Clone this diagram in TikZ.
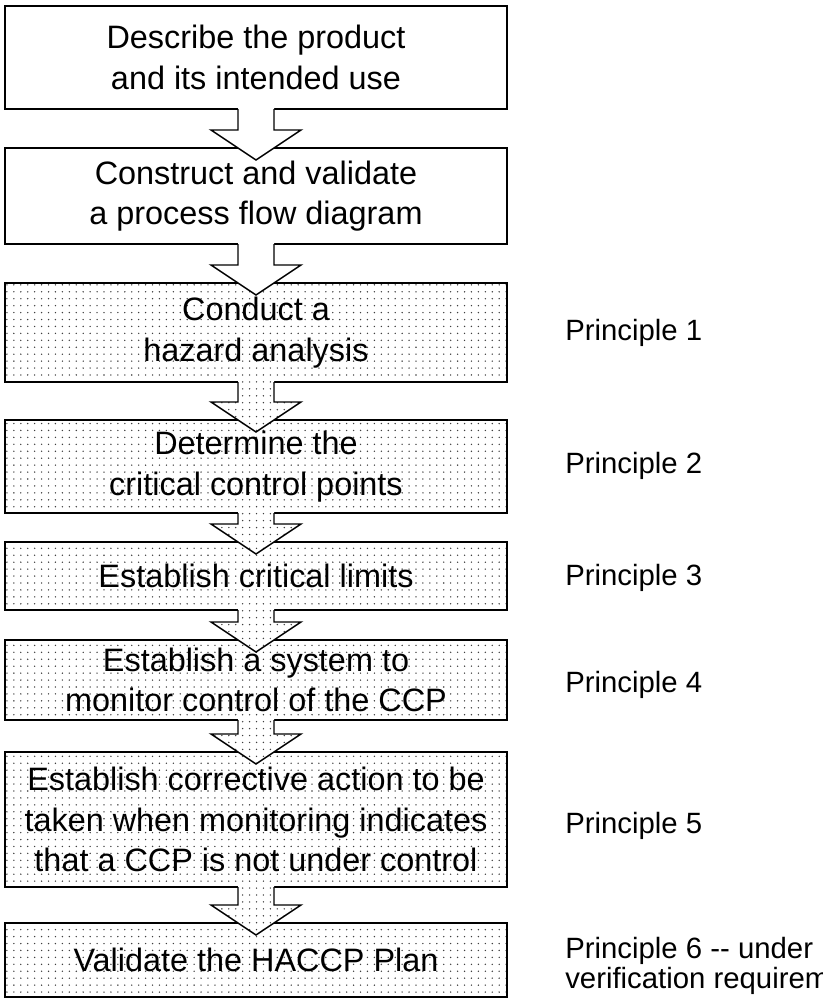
\documentclass[tikz,border=0pt]{standalone}
\usepackage{fontspec}
\setmainfont{Liberation Sans}
\usetikzlibrary{patterns,calc}

% fine grid of small dots used as the stipple shading
\pgfdeclarepatternformonly{stipple}{\pgfqpoint{-1pt}{-1pt}}{\pgfqpoint{1pt}{1pt}}{\pgfqpoint{5.2pt}{5.2pt}}{%
  \pgfpathcircle{\pgfqpoint{0pt}{0pt}}{0.58pt}\pgfusepath{fill}}

\tikzset{
  stepbox/.style={draw=black, line width=1.1pt, fill=white, inner sep=0pt, outer sep=0pt,
    minimum width=376.5pt, align=center, font=\fontsize{24.3pt}{30.5pt}\selectfont},
  shaded/.style={preaction={fill=white}, pattern=stipple, pattern color=black!75},
  principle/.style={anchor=base west, inner sep=0pt, align=left,
    font=\fontsize{22pt}{22.5pt}\selectfont},
  arrowline/.style={draw=black, line width=1.1pt, line join=miter},
  plainfill/.style={fill=white},
}

% block arrow from the bottom of box #1 into the top of box #2, filled with #3
\newcommand\flowarrow[3]{%
  \path[#3]
    ($(#1.south)+(-13.5pt,0.9pt)$) -- ($(#2.north)+(-13.5pt,13.5pt)$)
    -- ($(#2.north)+(-33.75pt,13.5pt)$) -- ($(#2.north)+(0pt,-9pt)$)
    -- ($(#2.north)+(33.75pt,13.5pt)$) -- ($(#2.north)+(13.5pt,13.5pt)$)
    -- ($(#1.south)+(13.5pt,0.9pt)$) -- cycle;
  \path[arrowline]
    ($(#1.south)+(-13.5pt,0pt)$) -- ($(#2.north)+(-13.5pt,13.5pt)$)
    -- ($(#2.north)+(-33.75pt,13.5pt)$) -- ($(#2.north)+(0pt,-9pt)$)
    -- ($(#2.north)+(33.75pt,13.5pt)$) -- ($(#2.north)+(13.5pt,13.5pt)$)
    -- ($(#1.south)+(13.5pt,0pt)$);
}

\begin{document}
\begin{tikzpicture}[x=0.75pt, y=-0.75pt]
\useasboundingbox (0,0) rectangle (822,999);
\begin{scope}
\clip (0,0) rectangle (822,999);

% process steps
\node[stepbox, minimum height=77.25pt] (b1) at (256,57.5)
  {Describe the product\\and its intended use};
\node[stepbox, minimum height=72pt] (b2) at (256,196)
  {Construct and validate\\a process flow diagram};
\node[stepbox, shaded, minimum height=74.25pt] (b3) at (256,332.5)
  {Conduct a\\hazard analysis};
\node[stepbox, shaded, minimum height=69.75pt] (b4) at (256,466.5)
  {Determine the\\critical control points};
\node[stepbox, shaded, minimum height=51pt] (b5) at (256,576)
  {Establish critical limits};
\node[stepbox, shaded, minimum height=60pt] (b6) at (256,680)
  {Establish a system to\\monitor control of the CCP};
\node[stepbox, shaded, minimum height=101.25pt] (b7) at (256,819.5)
  {Establish corrective action to be\\taken when monitoring indicates\\that a CCP is not under control};
\node[stepbox, shaded, minimum height=55.5pt] (b8) at (256,960)
  {Validate the HACCP Plan};

% block arrows between the steps
\flowarrow{b1}{b2}{plainfill}
\flowarrow{b2}{b3}{plainfill}
\flowarrow{b3}{b4}{shaded}
\flowarrow{b4}{b5}{shaded}
\flowarrow{b5}{b6}{shaded}
\flowarrow{b6}{b7}{shaded}
\flowarrow{b7}{b8}{shaded}

% principle labels
\node[principle] (p1) at (565,340) {Principle 1};
\node[principle] (p2) at (565,473) {Principle 2};
\node[principle] (p3) at (565,585) {Principle 3};
\node[principle] (p4) at (565,692) {Principle 4};
\node[principle] (p5) at (565,833) {Principle 5};
\node[principle] (p6) at (565,988) {Principle 6 -\kern0pt- under\\verification requirements};
\end{scope}
\end{tikzpicture}
\end{document}
